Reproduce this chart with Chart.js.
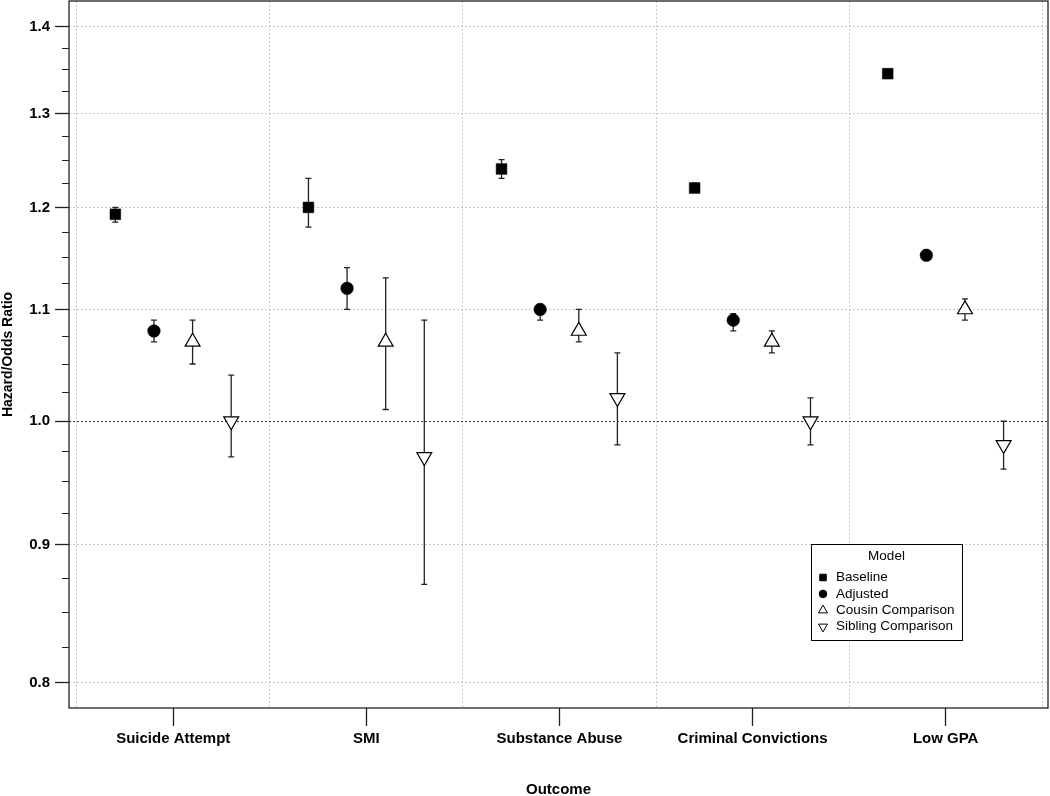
<!DOCTYPE html>
<html>
<head>
<meta charset="utf-8">
<script src="https://cdn.jsdelivr.net/npm/chart.js@4.4.0/dist/chart.umd.min.js"></script>
<style>
  html, body { margin: 0; padding: 0; background: #fff; }
  canvas { display: block; }
</style>
</head>
<body>
<canvas id="graphCanvas" width="1050" height="796"></canvas>
<script>
var outcomes = ['Suicide Attempt', 'SMI', 'Substance Abuse', 'Criminal Convictions', 'Low GPA'];
var modelNames = ['Baseline', 'Adjusted', 'Cousin Comparison', 'Sibling Comparison'];

var baseline   = [1.193, 1.20, 1.24, 1.22, 1.345];
var baselineLo = [1.185, 1.18, 1.23, 1.216, 1.34];
var baselineHi = [1.20, 1.23, 1.25, 1.225, 1.35];

var adjusted   = [1.08, 1.12, 1.10, 1.09, 1.152];
var adjustedLo = [1.07, 1.10, 1.09, 1.08, 1.147];
var adjustedHi = [1.09, 1.14, 1.105, 1.096, 1.157];

var cousin   = [1.07, 1.07, 1.08, 1.07, 1.10];
var cousinLo = [1.05, 1.01, 1.07, 1.06, 1.09];
var cousinHi = [1.09, 1.13, 1.10, 1.08, 1.11];

var sibling   = [1.00, 0.97, 1.02, 1.00, 0.98];
var siblingLo = [0.97, 0.87, 0.98, 0.98, 0.96];
var siblingHi = [1.04, 1.09, 1.06, 1.02, 1.00];

var yTicks = [0.8, 0.9, 1.0, 1.1, 1.2, 1.3, 1.4];
var yMinor = [0.825, 0.85, 0.875, 0.925, 0.95, 0.975, 1.025, 1.05, 1.075,
              1.125, 1.15, 1.175, 1.225, 1.25, 1.275, 1.325, 1.35, 1.375];

var FONT = '"Liberation Sans", Arial, Helvetica, sans-serif';
var dodge = 0.2;

function buildPoints(est, lo, hi, k) {
  var pts = [];
  for (var i = 0; i < est.length; i++) {
    pts.push({ x: i + 1 + (k - 1.5) * dodge, y: est[i], lo: lo[i], hi: hi[i] });
  }
  return pts;
}

function isWhole(v) {
  return Math.abs(v - Math.round(v)) < 1e-6;
}

function noPadding(scale) {
  scale.paddingTop = 0;
  scale.paddingBottom = 0;
  scale.paddingLeft = 0;
  scale.paddingRight = 0;
}

// error bars go under the markers
var errorBars = {
  id: 'errorBars',
  beforeDatasetsDraw: function (chart) {
    var ctx = chart.ctx, xs = chart.scales.x, ys = chart.scales.y;
    ctx.save();
    ctx.strokeStyle = '#222';
    ctx.lineWidth = 1.3;
    chart.data.datasets.forEach(function (ds) {
      ds.data.forEach(function (p) {
        var px = xs.getPixelForValue(p.x);
        var y1 = ys.getPixelForValue(p.lo);
        var y2 = ys.getPixelForValue(p.hi);
        ctx.beginPath();
        ctx.moveTo(px, y1); ctx.lineTo(px, y2);
        ctx.moveTo(px - 3, y1); ctx.lineTo(px + 3, y1);
        ctx.moveTo(px - 3, y2); ctx.lineTo(px + 3, y2);
        ctx.stroke();
      });
    });
    ctx.restore();
  }
};

// frame round the panel, minor ticks on y, boxed legend
var panelExtras = {
  id: 'panelExtras',
  afterDraw: function (chart) {
    var ctx = chart.ctx, a = chart.chartArea, ys = chart.scales.y;
    ctx.save();
    ctx.strokeStyle = '#222';
    ctx.lineWidth = 1.3;
    ctx.strokeRect(a.left, a.top, a.right - a.left, a.bottom - a.top);

    ctx.beginPath();
    yMinor.forEach(function (v) {
      var py = Math.round(ys.getPixelForValue(v)) + 0.5;
      ctx.moveTo(a.left - 7, py);
      ctx.lineTo(a.left, py);
    });
    ctx.lineWidth = 1;
    ctx.stroke();

    var bx = a.left + 742, by = a.top + 543, bw = 151, bh = 96;
    ctx.fillStyle = '#fff';
    ctx.fillRect(bx, by, bw, bh);
    ctx.lineWidth = 1;
    ctx.strokeStyle = '#000';
    ctx.strokeRect(bx + 0.5, by + 0.5, bw, bh);

    ctx.fillStyle = '#000';
    ctx.font = '13.5px ' + FONT;
    ctx.textBaseline = 'middle';
    ctx.textAlign = 'center';
    ctx.fillText('Model', bx + bw / 2, by + 12);
    ctx.textAlign = 'left';

    var sizes = [4.6, 3.8, 5.2, 5.2];
    chart.data.datasets.forEach(function (ds, k) {
      var ly = by + 33.5 + k * 16.4;
      ctx.fillStyle = ds.backgroundColor;
      ctx.strokeStyle = '#000';
      ctx.lineWidth = 1;
      Chart.helpers.drawPoint(ctx, {
        pointStyle: ds.pointStyle, radius: sizes[k],
        rotation: ds.pointRotation || 0, borderWidth: 1
      }, bx + 12, ly);
      ctx.fillStyle = '#000';
      ctx.fillText(ds.label, bx + 25, ly);
    });
    ctx.restore();
  }
};

var chartdata = {
  datasets: [
    {
      label: modelNames[0],
      data: buildPoints(baseline, baselineLo, baselineHi, 0),
      pointStyle: 'rect', pointRadius: 7.6,
      backgroundColor: '#000', borderColor: '#000', borderWidth: 0.5
    },
    {
      label: modelNames[1],
      data: buildPoints(adjusted, adjustedLo, adjustedHi, 1),
      pointStyle: 'circle', pointRadius: 6.3,
      backgroundColor: '#000', borderColor: '#000', borderWidth: 0.5
    },
    {
      label: modelNames[2],
      data: buildPoints(cousin, cousinLo, cousinHi, 2),
      pointStyle: 'triangle', pointRadius: 8.6,
      backgroundColor: '#fff', borderColor: '#000', borderWidth: 1.2
    },
    {
      label: modelNames[3],
      data: buildPoints(sibling, siblingLo, siblingHi, 3),
      pointStyle: 'triangle', pointRotation: 180, pointRadius: 8.6,
      backgroundColor: '#fff', borderColor: '#000', borderWidth: 1.2
    }
  ]
};

var graphTarget = document.getElementById('graphCanvas');
var plot = new Chart(graphTarget, {
  type: 'scatter',
  data: chartdata,
  plugins: [errorBars, panelExtras],
  options: {
    responsive: false,
    animation: false,
    devicePixelRatio: 1,
    layout: { autoPadding: false, padding: { top: 1, right: 2, left: 0, bottom: 0 } },
    plugins: {
      legend: { display: false },
      tooltip: { enabled: false }
    },
    scales: {
      x: {
        type: 'linear',
        min: 0.46,
        max: 5.53,
        afterFit: function (scale) { scale.height = 88; noPadding(scale); },
        afterBuildTicks: function (scale) {
          var t = [];
          for (var v = 0.5; v <= 5.5; v += 0.5) t.push({ value: v });
          scale.ticks = t;
        },
        ticks: {
          autoSkip: false,
          maxRotation: 0,
          padding: 4,
          color: '#000',
          font: { family: FONT, size: 15, weight: 'bold' },
          callback: function (v) { return isWhole(v) ? outcomes[Math.round(v) - 1] : ''; }
        },
        grid: {
          lineWidth: 1,
          tickLength: 18,
          tickWidth: 1.3,
          color: function (c) { return c.tick && isWhole(c.tick.value) ? 'rgba(0,0,0,0)' : '#c8c8c8'; },
          tickColor: function (c) { return c.tick && isWhole(c.tick.value) ? '#222' : 'rgba(0,0,0,0)'; }
        },
        border: { display: false, dash: [2, 2] },
        title: {
          display: true,
          text: 'Outcome',
          color: '#000',
          padding: { top: 0, bottom: -3 },
          font: { family: FONT, size: 15, weight: 'bold' }
        }
      },
      y: {
        type: 'logarithmic',
        min: 0.783,
        max: 1.431,
        afterFit: function (scale) { scale.width = 69; noPadding(scale); },
        afterBuildTicks: function (scale) {
          scale.ticks = yTicks.map(function (v) { return { value: v }; });
        },
        ticks: {
          padding: 5,
          color: '#000',
          font: { family: FONT, size: 15, weight: 'bold' },
          callback: function (v) { return Number(v).toFixed(1); }
        },
        grid: {
          lineWidth: 1,
          tickLength: 14,
          tickWidth: 1.3,
          tickColor: '#222',
          color: function (c) { return c.tick && Math.abs(c.tick.value - 1) < 1e-6 ? '#333' : '#c8c8c8'; }
        },
        border: { display: false, dash: [2, 2] },
        title: {
          display: true,
          text: 'Hazard/Odds Ratio',
          color: '#000',
          padding: 0,
          font: { family: FONT, size: 14, weight: 'bold' }
        }
      }
    }
  }
});
</script>
</body>
</html>
